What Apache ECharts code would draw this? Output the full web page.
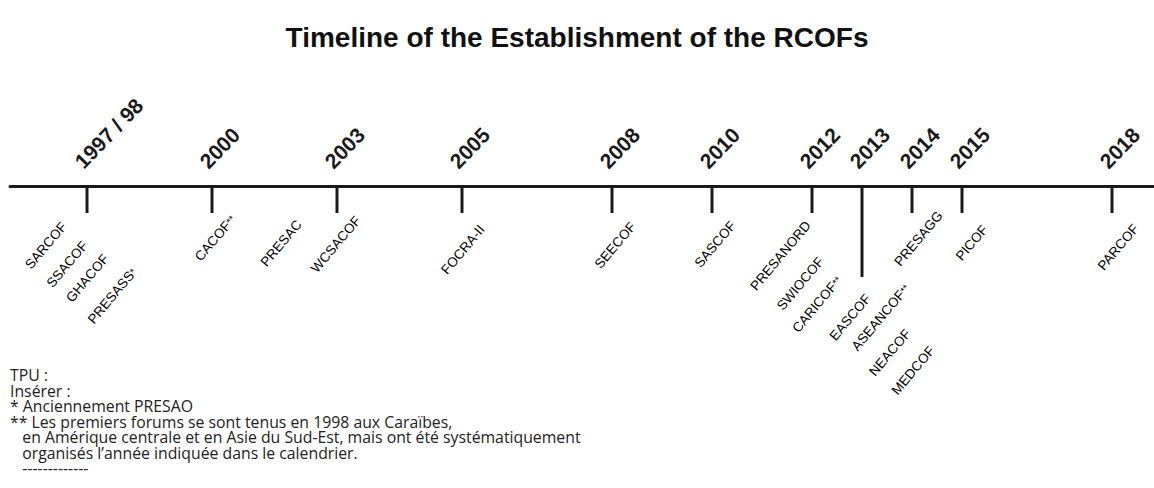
<!DOCTYPE html>
<html><head><meta charset="utf-8">
<script src="https://cdn.jsdelivr.net/npm/echarts@6/dist/echarts.min.js"></script>
<style>html,body{margin:0;padding:0;background:#fff}#c{width:1154px;height:488px}</style>
</head><body><div id="c"></div>
<script>
// ---------- DATA ----------
const titleText = 'Timeline of the Establishment of the RCOFs';
const eventLabels = ['1997 / 98', '2000', '2003', '2005', '2008', '2010', '2012', '2013', '2014', '2015', '2018'];
// where each event sits along the drawn timeline, in years
const eventPos = [1997.5, 2000, 2002.5, 2005, 2008, 2010, 2012, 2013, 2014, 2015, 2018];
const eventForums = [
  ['SARCOF', 'SSACOF', 'GHACOF', 'PRESASS*'],
  ['CACOF**', 'PRESAC'],
  ['WCSACOF'],
  ['FOCRA-II'],
  ['SEECOF'],
  ['SASCOF'],
  ['PRESANORD', 'SWIOCOF', 'CARICOF**'],
  ['EASCOF', 'ASEANCOF**', 'NEACOF', 'MEDCOF'],
  ['PRESAGG'],
  ['PICOF'],
  ['PARCOF']
];
const footnoteLines = [
  'TPU :',
  'Insérer :',
  '* Anciennement PRESAO',
  '** Les premiers forums se sont tenus en 1998 aux Caraïbes,',
  'en Amérique centrale et en Asie du Sud-Est, mais ont été systématiquement',
  'organisés l’année indiquée dans le calendrier.',
  '-------------'
];

// ---------- LAYOUT (pixels, not data) ----------
const tickDepth = [27, 27, 27, 27, 27, 27, 27, 91, 27, 27, 27];
// end point of each forum label relative to its tick top [dx, dy]
const forumOffsets = [
  [[-23, 38], [-2, 57], [19, 70], [47, 84]],
  [[21, 31], [87, 36]],
  [[21, 32]],
  [[20, 41]],
  [[21, 38]],
  [[21, 37]],
  [[-4, 37], [9, 73], [27, 92]],
  [[6, 110], [45, 100], [46, 145], [70, 162]],
  [[28, 27]],
  [[23, 41]],
  [[24, 40]]
];
const footIndentSpaces = [0, 0, 0, 0, 3, 3, 3];
const yearAngle = 46 * Math.PI / 180;
const forumAngle = 50 * Math.PI / 180;

const chart = echarts.init(document.getElementById('c'), null, {renderer: 'svg'});

function forumText(name) {
  const m = name.match(/^([^*]+)(\**)$/);
  return m[2] ? '{n|' + m[1] + '}{s|' + m[2] + '}' : '{n|' + m[1] + '}';
}

const data = eventPos.map((p, i) => [p, i]);

const footText = footnoteLines.map((t, i) => '\u00a0'.repeat(footIndentSpaces[i]) + t).join('\n');

chart.setOption({
  animation: false,
  backgroundColor: '#fff',
  title: {
    text: titleText,
    left: 'center',
    top: 18,
    textStyle: {fontFamily: '"Liberation Sans", Arial, sans-serif', fontWeight: 'bold', fontSize: 28, color: '#111'}
  },
  grid: {left: 10, right: 0, top: 186, height: 300},
  xAxis: {
    type: 'value', min: 1995.96, max: 2018.84, position: 'top',
    axisLine: {show: true, onZero: true, lineStyle: {color: '#1a1a1a', width: 3}},
    axisTick: {show: false}, axisLabel: {show: false}, splitLine: {show: false}
  },
  yAxis: {
    type: 'value', min: 0, max: 300, inverse: true, show: false
  },
  graphic: [{
    type: 'text',
    left: 10,
    top: 367.25,
    style: {text: footText, font: '15.8px "Open Sans", sans-serif', fill: '#222', lineHeight: 15.5}
  }],
  series: [{
    type: 'custom',
    clip: false,
    data: data,
    renderItem: function (params, api) {
      const i = api.value(1);
      const x = api.value(0);
      const p0 = api.coord([x, 0]);
      const p1 = api.coord([x, tickDepth[i]]);
      const children = [];
      children.push({
        type: 'line',
        shape: {x1: p0[0], y1: p0[1], x2: p1[0], y2: p1[1]},
        style: {stroke: '#1a1a1a', lineWidth: 3}
      });
      children.push({
        type: 'text',
        x: p0[0] - 1, y: p0[1] - 14,
        rotation: yearAngle,
        style: {
          text: eventLabels[i],
          font: 'bold 21px "Liberation Sans", Arial, sans-serif',
          fill: '#1a1a1a', align: 'left', verticalAlign: 'bottom'
        }
      });
      eventForums[i].forEach(function (name, k) {
        const off = forumOffsets[i][k];
        children.push({
          type: 'text',
          x: p0[0] + off[0], y: p0[1] + off[1],
          rotation: forumAngle,
          style: {
            text: forumText(name),
            align: 'right', verticalAlign: 'middle',
            rich: {
              n: {fontFamily: '"Liberation Sans", Arial, sans-serif', fontSize: 13.5, color: '#5a5a5a', height: 15},
              s: {fontFamily: '"Liberation Sans", Arial, sans-serif', fontSize: 10, color: '#5a5a5a', verticalAlign: 'top', height: 15, lineHeight: 8}
            }
          }
        });
      });
      return {type: 'group', children: children};
    }
  }]
});
</script>
</body></html>
